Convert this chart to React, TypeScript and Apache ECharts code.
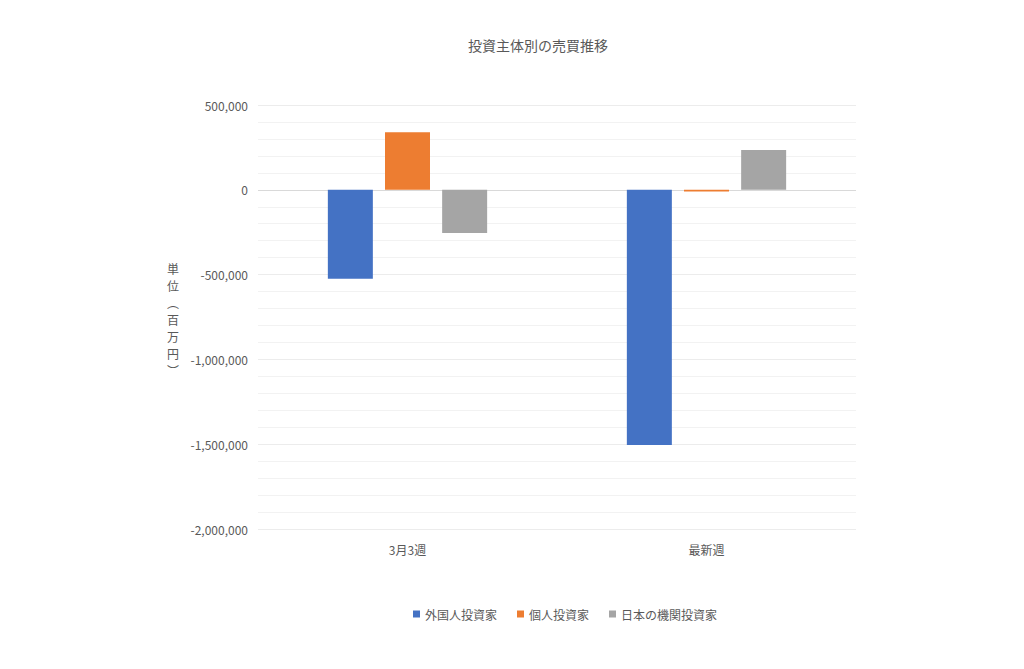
import { useEffect, useRef } from "react";
import * as echarts from "echarts";

const categories = ["3月3週", "最新週"];
const seriesNames = ["外国人投資家", "個人投資家", "日本の機関投資家"];
const foreignValues = [-525000, -1505000];
const individualValues = [340000, -10000];
const institutionValues = [-255000, 235000];
const colors = ["#4472C4", "#ED7D31", "#A5A5A5"];
const yLabel = ["単", "位", "︵", "百", "万", "円", "︶"];

const FONT = "'Noto Sans CJK JP', 'Noto Sans', sans-serif";

export default function App(): JSX.Element {
  const chartRef = useRef<HTMLDivElement>(null);

  useEffect(() => {
    const myChart = echarts.init(chartRef.current, null, { renderer: "svg" });
    const values = [foreignValues, individualValues, institutionValues];
    const option = {
      animation: false,
      textStyle: { fontFamily: FONT },
      grid: { left: 250, right: 160, top: 97, bottom: 132 },
      legend: {
        data: seriesNames,
        bottom: 36,
        left: 400,
        icon: "rect",
        itemWidth: 7,
        itemHeight: 7,
        itemGap: 20,
        textStyle: { color: "#595959", fontSize: 12, fontFamily: FONT },
      },
      graphic: [
        {
          type: "text",
          left: 460,
          top: 30,
          style: {
            text: "投資主体別の売買推移",
            fill: "#595959",
            fontSize: 14,
            fontFamily: FONT,
          },
        },
        {
          type: "text",
          left: 159,
          top: 252,
          style: {
            text: yLabel.join("\n"),
            fill: "#595959",
            fontSize: 12,
            lineHeight: 17,
            fontFamily: FONT,
          },
        },
      ],
      xAxis: {
        type: "category",
        data: categories,
        axisLine: { show: false },
        axisTick: { show: false },
        axisLabel: { color: "#595959", fontSize: 12, margin: 14, fontFamily: FONT },
      },
      yAxis: {
        type: "value",
        min: -2000000,
        max: 500000,
        interval: 500000,
        axisLine: { show: false },
        axisTick: { show: false },
        axisLabel: {
          color: "#595959",
          fontSize: 12,
          margin: 10,
          fontFamily: FONT,
          formatter: (v: number) => v.toLocaleString("en-US"),
        },
        splitLine: {
          lineStyle: {
            color: ["#ececec", "#ececec", "#ececec", "#ececec", "#d9d9d9", "#ececec"],
            width: 1,
          },
        },
        minorTick: { show: false, splitNumber: 5 },
        minorSplitLine: { show: true, lineStyle: { color: "#f2f2f2", width: 1 } },
      },
      series: seriesNames.map((name, i) => ({
        name,
        type: "bar",
        data: values[i],
        barWidth: 45,
        barGap: "27%",
        itemStyle: { color: colors[i] },
      })),
    };
    myChart.setOption(option);
    return () => {
      myChart.dispose();
    };
  }, []);

  return <div ref={chartRef} style={{ width: 1008, height: 653 }}></div>;
}
